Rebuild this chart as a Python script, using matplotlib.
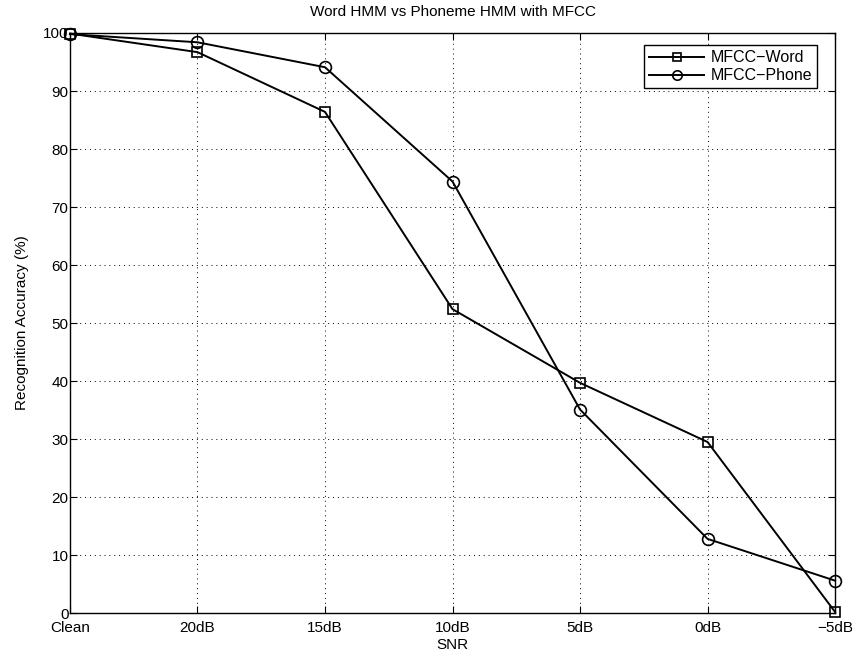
import numpy as np
import matplotlib
matplotlib.use('Agg')
import matplotlib.pyplot as plt

plt.rcParams['font.family'] = ['Liberation Sans', 'DejaVu Sans']

snr_labels = ['Clean', '20dB', '15dB', '10dB', '5dB', '0dB', '\u22125dB']
word_acc = [99.9, 96.7, 86.4, 52.4, 39.7, 29.5, 0.2]
phone_acc = [99.8, 98.4, 94.1, 74.4, 35.1, 12.8, 5.6]

x = np.arange(len(snr_labels))

fig = plt.figure(figsize=(8.53, 6.6), dpi=100)
ax = fig.add_axes([0.082, 0.071, 0.897, 0.879])

ax.plot(x, word_acc, 'k-', marker='s', markersize=7, markerfacecolor='none',
        markeredgewidth=1.2, linewidth=1.4, label='MFCC\u2212Word', clip_on=False)
ax.plot(x, phone_acc, 'k-', marker='o', markersize=8.5, markerfacecolor='none',
        markeredgewidth=1.2, linewidth=1.4, label='MFCC\u2212Phone', clip_on=False)

ax.set_xlim(0, len(snr_labels) - 1)
ax.set_ylim(0, 100)
ax.set_xticks(x)
ax.set_xticklabels(snr_labels)
ax.set_yticks(np.arange(0, 101, 10))
ax.tick_params(direction='in', length=5, width=0.8, labelsize=11,
               top=True, right=True)
ax.tick_params(axis='x', pad=6)
ax.tick_params(axis='y', pad=1)
ax.grid(True, linestyle=(0, (1, 4)), color='black', linewidth=0.7)
for s in ax.spines.values():
    s.set_linewidth(1.0)

ax.set_title('Word HMM vs Phoneme HMM with MFCC', fontsize=11, pad=12)
ax.set_xlabel('SNR', fontsize=11, labelpad=2)
ax.set_ylabel('Recognition Accuracy (%)', fontsize=11, labelpad=10)

leg = ax.legend(loc='upper right', bbox_to_anchor=(0.983, 0.987), fontsize=11.5,
                fancybox=False, edgecolor='black', framealpha=1,
                handlelength=3.5, borderaxespad=0.3, labelspacing=0.2,
                borderpad=0.3, handletextpad=0.4, markerscale=0.8)
leg.get_frame().set_linewidth(1.0)

fig.savefig('out.png', dpi=100)
